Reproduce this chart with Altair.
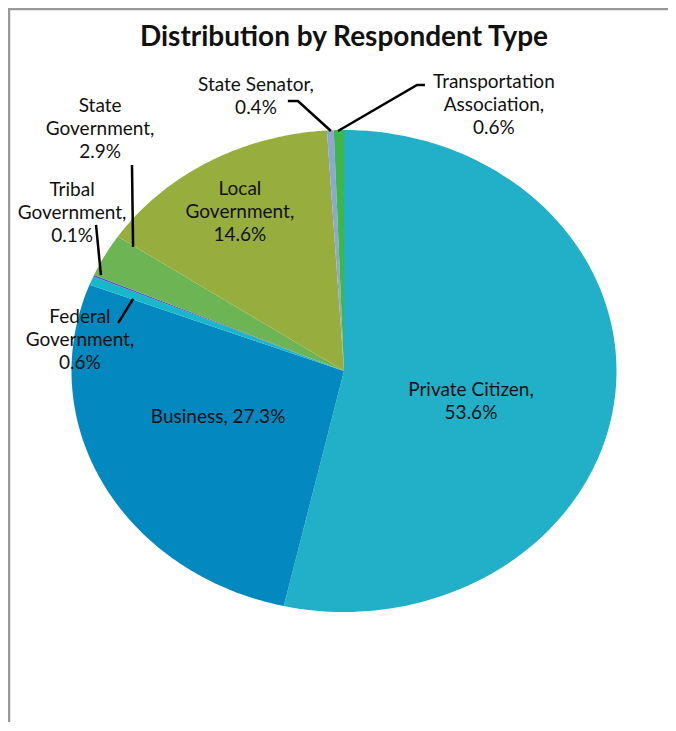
import altair as alt
import pandas as pd

# ---- data -------------------------------------------------------------
categories = ["Private Citizen", "Business", "Federal Government", "Tribal Government",
              "State Government", "Local Government", "State Senator",
              "Transportation Association"]
shares = [53.6, 27.3, 0.6, 0.1, 2.9, 14.6, 0.4, 0.6]
colors = ["#22B0C9", "#0389C0", "#18B8CA", "#5B4FC4", "#6CB454", "#97AD3E",
          "#8EA6D4", "#3DB64A"]
wrapped = ["Private Citizen,", "Business,", "Federal\nGovernment,", "Tribal\nGovernment,",
           "State\nGovernment,", "Local\nGovernment,", "State Senator,",
           "Transportation\nAssociation,"]
title_text = "Distribution by Respondent Type"

# label placement (first line), in pie-radius units (x right, y up, from pie centre)
label_u = [0.466, -0.462, -0.969, -0.998, -0.895, -0.382, -0.323, 0.550]
label_v = [-0.079, -0.191, 0.224, 0.751, 1.100, 0.755, 1.187, 1.199]

# leader lines (pie-radius units)
leader_seg = ["fed", "fed", "tri", "tri", "sg", "sg", "ss", "ss", "ss", "ta", "ta", "ta"]
leader_k = [0, 1, 0, 1, 0, 1, 0, 1, 2, 0, 1, 2]
leader_u = [-0.829, -0.774, -0.910, -0.892, -0.778, -0.774, -0.206, -0.169, -0.048,
            0.297, 0.268, -0.022]
leader_v = [0.199, 0.299, 0.606, 0.398, 0.855, 0.515, 1.120, 1.120, 0.996,
            1.187, 1.187, 0.996]

# ---- tables -----------------------------------------------------------
df = pd.DataFrame({"category": categories, "value": shares,
                   "order": list(range(len(categories)))})
labels = pd.DataFrame({
    "text": [f"{w}{' ' if c == 'Business' else chr(10)}{s}%"
             for w, c, s in zip(wrapped, categories, shares)],
    "u": label_u, "v": label_v})
leaders = pd.DataFrame({"seg": leader_seg, "k": leader_k, "u": leader_u, "v": leader_v})
title_df = pd.DataFrame({"text": [title_text], "u": [0.0], "v": [1.380]})

W, H = 660, 714
CX, CY, RX, RY = 336, 363, 272.5, 241
xs = alt.Scale(domain=[-1, 1], range=[CX - RX, CX + RX])
ys = alt.Scale(domain=[-1, 1], range=[CY + RY, CY - RY])
FONT = "Lato"

pie = alt.Chart(df).transform_window(
    cum="sum(value)", sort=[alt.SortField("order")], frame=[None, 0]
).transform_joinaggregate(
    total="sum(value)"
).transform_calculate(
    a0="2*PI*(datum.cum - datum.value)/datum.total",
    a1="2*PI*datum.cum/datum.total",
    steps="sequence(-1, 121)",
).transform_flatten(
    ["steps"], as_=["i"]
).transform_calculate(
    ang="datum.a0 + (datum.a1 - datum.a0) * max(datum.i, 0) / 120",
    px="datum.i < 0 ? 0 : sin(datum.ang)",
    py="datum.i < 0 ? 0 : cos(datum.ang)",
).mark_line(strokeWidth=0, interpolate="linear").encode(
    x=alt.X("px:Q", scale=xs, axis=None),
    y=alt.Y("py:Q", scale=ys, axis=None),
    fill=alt.Fill("category:N", scale=alt.Scale(domain=categories, range=colors),
                  legend=None),
    order=alt.Order("i:Q"),
)

lead = alt.Chart(leaders).mark_line(color="black", strokeWidth=2.5).encode(
    x=alt.X("u:Q", scale=xs, axis=None),
    y=alt.Y("v:Q", scale=ys, axis=None),
    detail="seg:N",
    order="k:Q",
)

text = alt.Chart(labels).mark_text(
    font=FONT, fontSize=19, lineHeight=23, lineBreak="\n", align="center",
    baseline="middle", color="#111111"
).encode(
    x=alt.X("u:Q", scale=xs, axis=None),
    y=alt.Y("v:Q", scale=ys, axis=None),
    text="text:N",
)

title = alt.Chart(title_df).mark_text(
    font=FONT, fontSize=28, fontWeight="bold", align="center", baseline="middle",
    color="#111111"
).encode(
    x=alt.X("u:Q", scale=xs, axis=None),
    y=alt.Y("v:Q", scale=ys, axis=None),
    text="text:N",
)

border_top = alt.Chart(title_df).mark_rule(color="#999999", strokeWidth=2.5).encode(
    x=alt.value(0), x2=alt.value(W), y=alt.value(1)
)
border_left = alt.Chart(title_df).mark_rule(color="#999999", strokeWidth=2.5).encode(
    x=alt.value(1), y=alt.value(0), y2=alt.value(H)
)

chart = alt.layer(pie, lead, text, title, border_top, border_left).properties(
    width=W, height=H, padding=0, autosize=alt.AutoSizeParams(type="none"),
    background="white"
).configure_view(stroke=None)

chart.save("out.html", embed_options={"renderer": "svg", "actions": False})
